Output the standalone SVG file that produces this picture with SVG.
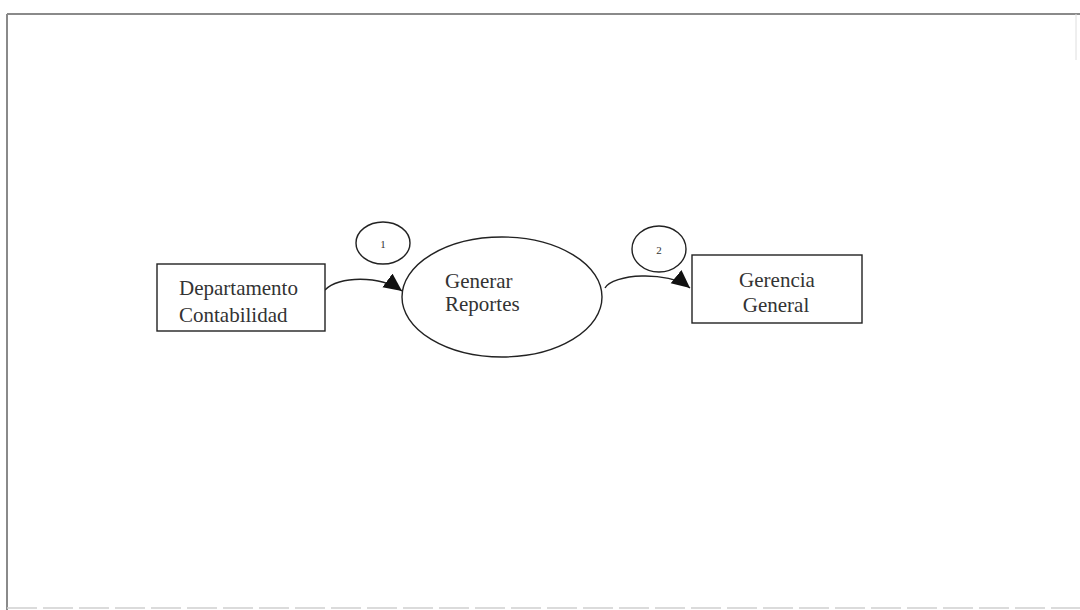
<svg xmlns="http://www.w3.org/2000/svg" width="1080" height="610" viewBox="0 0 1080 610">
<style>
.shape{fill:#fff;stroke:#222;stroke-width:1.4}
.frame{fill:none;stroke:#8a8a8a;stroke-width:2}
.conn{fill:none;stroke:#222;stroke-width:1.4}
.lbl{font-family:"Liberation Serif","Times New Roman",serif;font-size:21px;fill:#333}
.num{font-family:"Liberation Serif","Times New Roman",serif;font-size:11px;fill:#333;text-anchor:middle}
</style>
<defs>
<marker id="arr" markerUnits="userSpaceOnUse" markerWidth="20" markerHeight="18" refX="18" refY="8.5" orient="auto">
<path d="M0,0 L18,8.5 L0,17 z" fill="#111"/>
</marker>
</defs>
<rect width="1080" height="610" fill="#fff"/>
<g id="frame">
<line class="frame" x1="7" y1="14" x2="1080" y2="14"/>
<line class="frame" x1="7" y1="14" x2="7" y2="610"/>
<line x1="7" y1="608" x2="1080" y2="608" stroke="#cfcfcf" stroke-width="1.5" stroke-dasharray="30 6"/>
<line x1="1076" y1="14" x2="1076" y2="60" stroke="#dedede" stroke-width="1"/>
</g>
<g id="connectors">
<path class="conn" d="M325,290 C338,276 380,275 402,291" marker-end="url(#arr)"/>
<path class="conn" d="M605,288 C612,274 668,270 690,288" marker-end="url(#arr)"/>
</g>
<g id="n-departamento">
<rect class="shape" x="157" y="264" width="168" height="67"/>
<text class="lbl" x="179" y="295">Departamento</text>
<text class="lbl" x="179" y="322">Contabilidad</text>
</g>
<g id="n-generar">
<ellipse class="shape" cx="502" cy="297" rx="100" ry="60"/>
<text class="lbl" x="445" y="288">Generar</text>
<text class="lbl" x="445" y="311">Reportes</text>
</g>
<g id="n-gerencia">
<rect class="shape" x="692" y="255" width="170" height="68"/>
<text class="lbl" x="777" y="287" text-anchor="middle">Gerencia</text>
<text class="lbl" x="776" y="312" text-anchor="middle">General</text>
</g>
<g id="f1">
<ellipse class="shape" cx="383" cy="243" rx="27" ry="21"/>
<text class="num" x="383" y="248">1</text>
</g>
<g id="f2">
<ellipse class="shape" cx="659" cy="249" rx="27" ry="23"/>
<text class="num" x="659" y="254">2</text>
</g>
</svg>
